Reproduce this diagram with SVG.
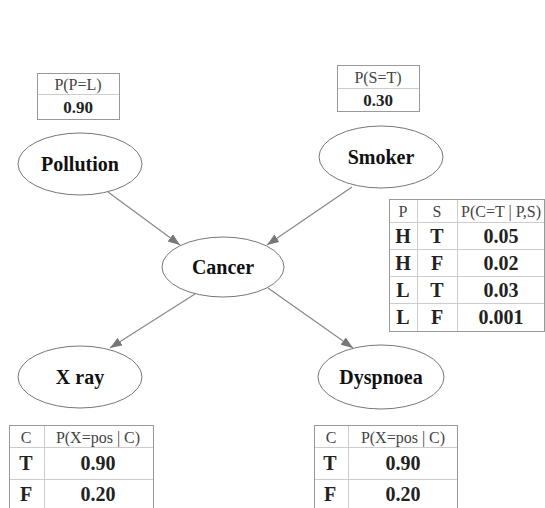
<svg xmlns="http://www.w3.org/2000/svg" width="545" height="508" viewBox="0 0 545 508">
<defs>
<style>
.node ellipse{fill:#fff;stroke:#777;stroke-width:1}
text{font-family:'Liberation Serif','Times New Roman','DejaVu Serif',serif}
.lbl{font-weight:bold;font-size:20px;fill:#111;text-anchor:middle;dominant-baseline:central}
.box{fill:#fff;stroke:#999;stroke-width:1}
.grid{stroke:#ccc;stroke-width:1;fill:none}
.hd{font-size:16px;fill:#444;text-anchor:middle;dominant-baseline:central}
.val{font-weight:bold;font-size:20px;fill:#222;text-anchor:middle;dominant-baseline:central}
.edge{stroke:#888;stroke-width:1.2;fill:none;marker-end:url(#arr)}
</style>
<marker id="arr" markerUnits="userSpaceOnUse" markerWidth="13" markerHeight="10" refX="12" refY="4.5" orient="auto">
<path d="M0,0 L12,4.5 L0,9 z" fill="#777"/>
</marker>
</defs>
<rect width="545" height="508" fill="#fff"/>
<g id="connectors">
<line class="edge" x1="108" y1="192" x2="180" y2="245"/>
<line class="edge" x1="352" y1="187" x2="267" y2="245"/>
<line class="edge" x1="195" y1="294" x2="110" y2="348"/>
<line class="edge" x1="268" y1="288" x2="353" y2="348"/>
</g>
<g id="pollution" class="node">
<ellipse cx="80" cy="164" rx="62" ry="31"/>
<text class="lbl" x="80" y="164">Pollution</text>
</g>
<g id="smoker" class="node">
<ellipse cx="381" cy="157" rx="62" ry="31"/>
<text class="lbl" x="381" y="157">Smoker</text>
</g>
<g id="cancer" class="node">
<ellipse cx="223" cy="267" rx="61" ry="30"/>
<text class="lbl" x="223" y="267">Cancer</text>
</g>
<g id="xray" class="node">
<ellipse cx="80" cy="377" rx="62" ry="31"/>
<text class="lbl" x="80" y="377">X ray</text>
</g>
<g id="dyspnoea" class="node">
<ellipse cx="381" cy="377" rx="63" ry="32"/>
<text class="lbl" x="381" y="377">Dyspnoea</text>
</g>
<g id="cpt-pollution">
<rect class="box" x="37.5" y="73.5" width="82" height="46"/>
<line class="grid" x1="38" y1="94.5" x2="119" y2="94.5"/>
<text class="hd" x="78" y="84">P(P=L)</text>
<text class="val" x="78" y="107" style="font-size:17px">0.90</text>
</g>
<g id="cpt-smoker">
<rect class="box" x="337.5" y="65.5" width="82" height="46"/>
<line class="grid" x1="338" y1="88.5" x2="419" y2="88.5"/>
<text class="hd" x="378" y="77">P(S=T)</text>
<text class="val" x="378" y="100" style="font-size:17px">0.30</text>
</g>
<g id="cpt-cancer">
<rect class="box" x="389.5" y="199.5" width="155" height="132"/>
<line class="grid" x1="390" y1="222.5" x2="544" y2="222.5"/>
<line class="grid" x1="390" y1="249.5" x2="544" y2="249.5"/>
<line class="grid" x1="390" y1="276.5" x2="544" y2="276.5"/>
<line class="grid" x1="390" y1="303.5" x2="544" y2="303.5"/>
<line class="grid" x1="417.5" y1="200" x2="417.5" y2="331"/>
<line class="grid" x1="457.5" y1="200" x2="457.5" y2="331"/>
<text class="hd" x="403" y="211">P</text>
<text class="hd" x="437" y="211">S</text>
<text class="hd" x="501" y="211">P(C=T | P,S)</text>
<text class="val" x="403" y="236">H</text><text class="val" x="437" y="236">T</text><text class="val" x="501" y="236">0.05</text>
<text class="val" x="403" y="263">H</text><text class="val" x="437" y="263">F</text><text class="val" x="501" y="263">0.02</text>
<text class="val" x="403" y="290">L</text><text class="val" x="437" y="290">T</text><text class="val" x="501" y="290">0.03</text>
<text class="val" x="403" y="317">L</text><text class="val" x="437" y="317">F</text><text class="val" x="501" y="317">0.001</text>
</g>
<g id="cpt-xray">
<rect class="box" x="9.5" y="425.5" width="144" height="90"/>
<line class="grid" x1="10" y1="447.5" x2="153" y2="447.5"/>
<line class="grid" x1="10" y1="479.5" x2="153" y2="479.5"/>
<line class="grid" x1="44.5" y1="426" x2="44.5" y2="510"/>
<text class="hd" x="26" y="437">C</text>
<text class="hd" x="98" y="437">P(X=pos | C)</text>
<text class="val" x="26" y="463">T</text><text class="val" x="98" y="463">0.90</text>
<text class="val" x="26" y="494">F</text><text class="val" x="98" y="494">0.20</text>
</g>
<g id="cpt-dyspnoea">
<rect class="box" x="314.5" y="425.5" width="143" height="90"/>
<line class="grid" x1="315" y1="447.5" x2="457" y2="447.5"/>
<line class="grid" x1="315" y1="479.5" x2="457" y2="479.5"/>
<line class="grid" x1="348.5" y1="426" x2="348.5" y2="510"/>
<text class="hd" x="331" y="437">C</text>
<text class="hd" x="403" y="437">P(X=pos | C)</text>
<text class="val" x="330" y="463">T</text><text class="val" x="403" y="463">0.90</text>
<text class="val" x="330" y="494">F</text><text class="val" x="403" y="494">0.20</text>
</g>
</svg>
